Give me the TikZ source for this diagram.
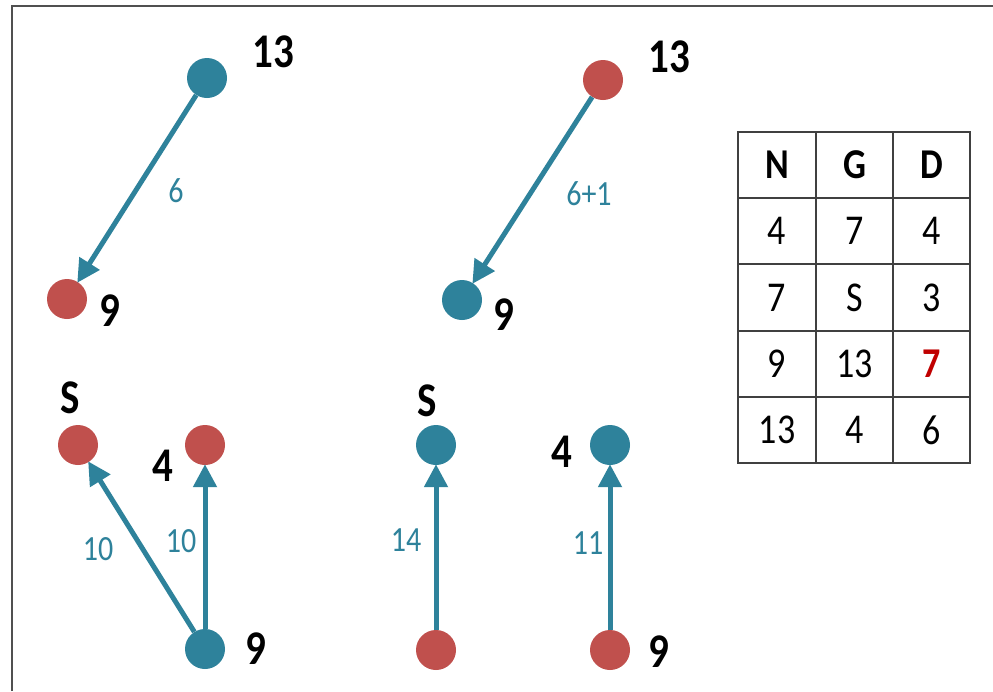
\documentclass[tikz,border=0pt]{standalone}
\usepackage{fontspec}
\usepackage{graphicx}
\setmainfont{Carlito}
\usetikzlibrary{arrows.meta}

\definecolor{teal}{HTML}{2E829B}
\definecolor{rednode}{HTML}{C0504D}
\definecolor{framegray}{HTML}{505050}
\definecolor{gridgray}{HTML}{404040}
\definecolor{hotred}{HTML}{C00000}

% taller glyphs, as in the drawing
\newcommand{\talltext}[1]{\scalebox{1}[1.18]{#1}}

\tikzset{
  vtx/.style={circle, minimum size=40pt, inner sep=0pt, draw=none},
  bluev/.style={vtx, fill=teal},
  redv/.style={vtx, fill=rednode},
  vlabel/.style={inner sep=0pt, font=\fontsize{41}{41}\selectfont\bfseries, text=black},
  elabel/.style={inner sep=0pt, font=\fontsize{30}{30}\selectfont, text=teal},
  cell/.style={inner sep=0pt, font=\fontsize{36}{36}\selectfont, text=black},
  hcell/.style={cell, font=\fontsize{36}{36}\selectfont\bfseries},
  edge/.style={draw=teal, line width=5pt,
    -{Triangle[length=23pt, width=23pt]}, shorten >=-1pt},
  gridline/.style={draw=gridgray, line width=2pt}
}

\begin{document}
\begin{tikzpicture}[x=1pt, y=-1pt]
  \useasboundingbox (0,0) rectangle (993,691);
  \fill[white] (0,0) rectangle (993,691);

  % frame: left and top edges
  \draw[draw=framegray, line width=2pt] (12,691) -- (12,6) -- (993,6);

  % ---- upper left: 13 -> 9 ----
  \node[bluev] (a13) at (207,78) {};
  \node[redv]  (a9)  at (67,299) {};
  \node[vlabel] (a13l) at (273,52) {\talltext{13}};
  \node[vlabel] (a9l)  at (110,311) {\talltext{9}};
  \draw[edge] (a13) -- (a9);
  \node[elabel] (a6) at (176,191) {\talltext{6}};

  % ---- upper middle: 13 -> 9 ----
  \node[redv]  (b13) at (603,80) {};
  \node[bluev] (b9)  at (462,300) {};
  \node[vlabel] (b13l) at (669,57) {\talltext{13}};
  \node[vlabel] (b9l)  at (504,315) {\talltext{9}};
  \draw[edge] (b13) -- (b9);
  \node[elabel] (b61) at (589,194) {\talltext{6+1}};

  % ---- lower left: 9 -> S, 9 -> 4 ----
  \node[redv]  (cS) at (78,445) {};
  \node[redv]  (c4) at (205,445) {};
  \node[bluev] (c9) at (205,649) {};
  \node[vlabel] (cSl) at (70,398) {\talltext{S}};
  \node[vlabel] (c4l) at (163,466) {\talltext{4}};
  \node[vlabel] (c9l) at (256,649) {\talltext{9}};
  \draw[edge] (c9) -- (cS);
  \draw[edge] (c9) -- (c4);
  \node[elabel] (c10a) at (98,549) {\talltext{10}};
  \node[elabel] (c10b) at (181,541) {\talltext{10}};

  % ---- lower middle: -> S ----
  \node[bluev] (dS) at (436,445) {};
  \node[redv]  (dr) at (436,650) {};
  \node[vlabel] (dSl) at (427,401) {\talltext{S}};
  \draw[edge] (dr) -- (dS);
  \node[elabel] (d14) at (406,540) {\talltext{14}};

  % ---- lower right: 9 -> 4 ----
  \node[bluev] (e4) at (610,445) {};
  \node[redv]  (e9) at (610,650) {};
  \node[vlabel] (e4l) at (562,452) {\talltext{4}};
  \node[vlabel] (e9l) at (659,652) {\talltext{9}};
  \draw[edge] (e9) -- (e4);
  \node[elabel] (e11) at (588,543) {\talltext{11}};

  % ---- table N / G / D ----
  \foreach \yy in {132,198,264,331,397,463}
    \draw[gridline] (737,\yy) -- (971,\yy);
  \foreach \xx in {738,816,893,970}
    \draw[gridline] (\xx,131) -- (\xx,464);

  \node[hcell] (hN) at (777,165) {\talltext{N}};
  \node[hcell] (hG) at (854.5,165) {\talltext{G}};
  \node[hcell] (hD) at (931.5,165) {\talltext{D}};

  \node[cell] (r1n) at (777,231) {\talltext{4}};
  \node[cell] (r1g) at (854.5,231) {\talltext{7}};
  \node[cell] (r1d) at (931.5,231) {\talltext{4}};

  \node[cell] (r2n) at (777,297.5) {\talltext{7}};
  \node[cell] (r2g) at (854.5,297.5) {\talltext{S}};
  \node[cell] (r2d) at (931.5,297.5) {\talltext{3}};

  \node[cell] (r3n) at (777,364) {\talltext{9}};
  \node[cell] (r3g) at (854.5,364) {\talltext{13}};
  \node[cell, text=hotred, font=\fontsize{36}{36}\selectfont\bfseries] (r3d) at (931.5,364) {\talltext{7}};

  \node[cell] (r4n) at (777,430) {\talltext{13}};
  \node[cell] (r4g) at (854.5,430) {\talltext{4}};
  \node[cell] (r4d) at (931.5,430) {\talltext{6}};
\end{tikzpicture}
\end{document}
